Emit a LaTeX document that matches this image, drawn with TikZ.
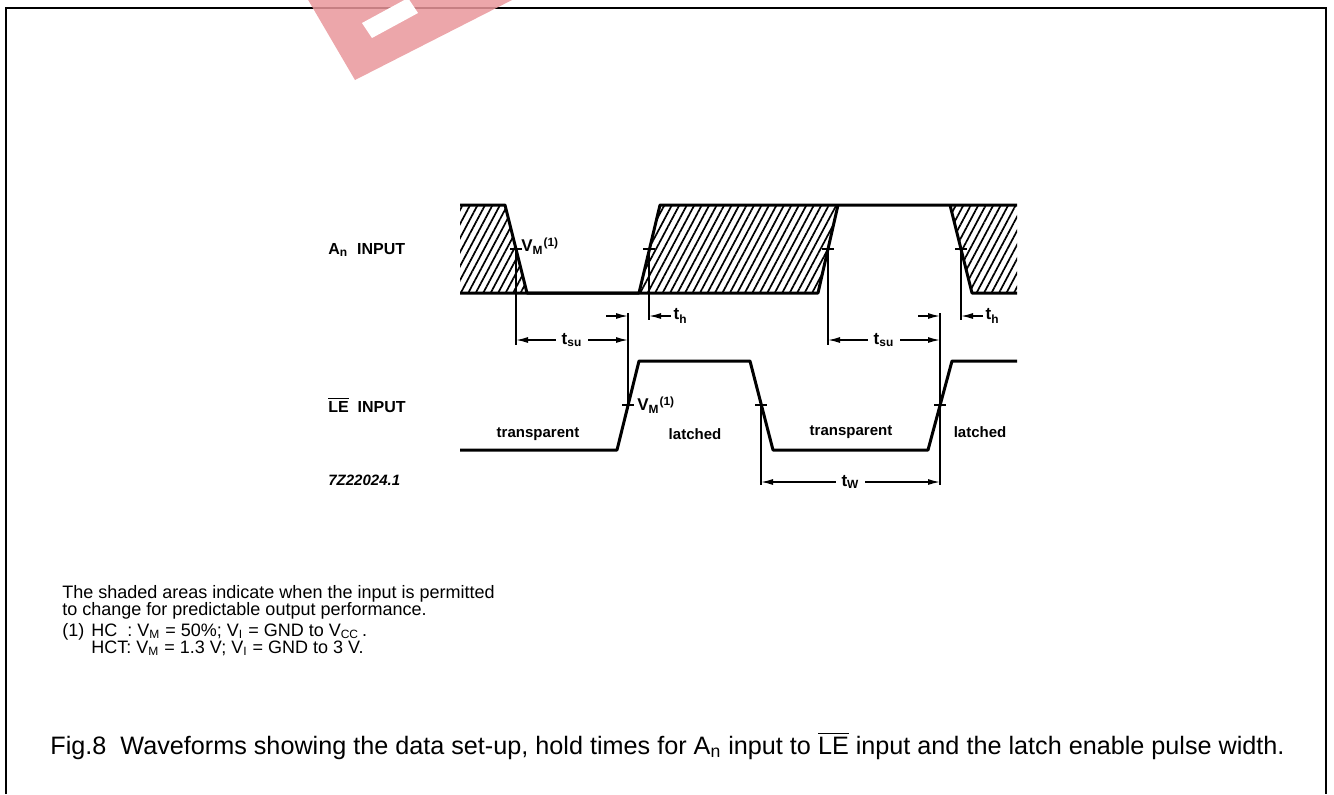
\documentclass[tikz,border=0pt]{standalone}
\usepackage{amsmath}
\usepackage{fontspec}
\setmainfont{Liberation Sans}
\usetikzlibrary{arrows.meta,patterns.meta,calc}

\definecolor{markred}{RGB}{233,150,155}

\tikzset{
  wave/.style={line width=1.5pt, line join=round},
  hatch/.style={pattern={Lines[angle=62,distance=3.3pt,line width=0.85pt]}, pattern color=black},
  dimline/.style={line width=0.7pt},
  dimboth/.style={line width=0.7pt, {Latex[length=6pt,width=3pt]}-{Latex[length=6pt,width=3pt]}},
  dimto/.style={line width=0.7pt, -{Latex[length=6pt,width=3pt]}},
  vmtick/.style={line width=0.8pt},
  lbl/.style={font=\fontsize{7.5}{9}\selectfont\bfseries, inner sep=1pt},
  vmlbl/.style={font=\fontsize{8.5}{10}\selectfont\bfseries, inner sep=1pt, anchor=west},
  dimlbl/.style={font=\fontsize{8.5}{10}\selectfont\bfseries, fill=white, inner sep=3pt},
  note/.style={font=\fontsize{9}{10}\selectfont, anchor=base west, inner sep=0pt},
}

\begin{document}
\begin{tikzpicture}[x=0.5pt, y=-0.5pt]
  \useasboundingbox (0,0) rectangle (1334,794);
  % frame, open at the bottom
  \draw[line width=1pt] (6,794) -- (6,8) -- (1326,8) -- (1326,794);
  % stamp at the top
  \fill[markred, opacity=0.85] (307,-2) -- (355,80) -- (516,-2) -- cycle;
  \fill[white] (362,23) -- (372,38) -- (418,13) -- (408,-2) -- cycle;

  % A_n input: shaded areas
  \fill[hatch] (460,205) -- (505,205) -- (527,293) -- (460,293) -- cycle;
  \fill[hatch] (639,293) -- (660,205) -- (838,205) -- (818,293) -- cycle;
  \fill[hatch] (950,205) -- (1017,205) -- (1017,293) -- (972,293) -- cycle;
  \draw[wave] (460,205) -- (505,205) -- (527,293) -- (639,293) -- (660,205) -- (1017,205);
  \draw[wave] (460,293) -- (818,293) -- (838,205);
  \draw[wave] (950,205) -- (972,293) -- (1017,293);

  % LE input
  \draw[wave] (460,450) -- (617,450) -- (639,361) -- (750,361) -- (773,450)
    -- (928,450) -- (952,361) -- (1017,361);

  % V_M crossings
  \coordinate (af1) at (516,249);
  \coordinate (ar1) at (649,249);
  \coordinate (ar2) at (828,249);
  \coordinate (af2) at (961,249);
  \coordinate (lr1) at (628,405);
  \coordinate (lf1) at (761,405);
  \coordinate (lr2) at (940,405);
  \foreach \c in {af1,ar1,ar2,af2,lr1,lf1,lr2}{%
    \draw[vmtick] ([xshift=-3pt]\c) -- ([xshift=3pt]\c);
  }

  % heights of the time marks
  \coordinate (th) at (0,316);
  \coordinate (tsu) at (0,340);
  \coordinate (tw) at (0,482);

  % reference lines
  \draw[dimline] (af1) -- ($(af1 |- tsu)+(0,5)$);
  \draw[dimline] (ar1) -- ($(ar1 |- th)+(0,4)$);
  \draw[dimline] ($(lr1 |- th)+(0,-3)$) -- (lr1);
  \draw[dimline] (ar2) -- ($(ar2 |- tsu)+(0,5)$);
  \draw[dimline] (af2) -- ($(af2 |- th)+(0,4)$);
  \draw[dimline] ($(lr2 |- th)+(0,-3)$) -- ($(lr2 |- tw)+(0,3)$);
  \draw[dimline] (lf1) -- ($(lf1 |- tw)+(0,3)$);

  % set-up and hold times
  \draw[dimboth] (af1 |- tsu) -- node[dimlbl] (tsua) {t$_\text{su}$} (lr1 |- tsu);
  \draw[dimto] ($(lr1 |- th)+(-22,0)$) -- (lr1 |- th);
  \draw[dimto] ($(ar1 |- th)+(22,0)$) node[dimlbl, anchor=west, fill=none, inner sep=1pt] (tha) {t$_\text{h}$} -- (ar1 |- th);
  \draw[dimboth] (ar2 |- tsu) -- node[dimlbl] (tsub) {t$_\text{su}$} (lr2 |- tsu);
  \draw[dimto] ($(lr2 |- th)+(-22,0)$) -- (lr2 |- th);
  \draw[dimto] ($(af2 |- th)+(22,0)$) node[dimlbl, anchor=west, fill=none, inner sep=1pt] (thb) {t$_\text{h}$} -- (af2 |- th);
  % pulse width
  \draw[dimboth] (lf1 |- tw) -- node[dimlbl] (twl) {t$_\text{W}$} (lr2 |- tw);

  % labels
  \node[lbl, anchor=west, font=\fontsize{8}{9}\selectfont\bfseries] (ain) at (326,250) {A$_\text{n}$\ \ INPUT};
  \node[lbl, anchor=west, font=\fontsize{8}{9}\selectfont\bfseries] (lein) at (326,405) {$\overline{\text{LE}}$\ \ INPUT};
  \node[lbl, anchor=west, font=\fontsize{7.5}{9}\selectfont\bfseries\itshape] (figno) at (326,480) {7Z22024.1};
  \node[vmlbl] (vma) at (519,246) {V$_\text{M}$$^\text{(1)}$};
  \node[vmlbl] (vmle) at (635,405) {V$_\text{M}$$^\text{(1)}$};
  \node[lbl] (tra) at (538,434) {transparent};
  \node[lbl] (lta) at (695,434) {latched};
  \node[lbl] (trb) at (851,432) {transparent};
  \node[lbl] (ltb) at (980,432) {latched};

  % notes
  \node[note] (shade1) at (62,598) {The shaded areas indicate when the input is permitted};
  \node[note] (shade2) at (62,615) {to change for predictable output performance.};
  \node[note] (fnum) at (62,636) {(1)};
  \node[note] (fnhc) at (91,636) {HC\ \ : V$_\text{M}$ = 50\%; V$_\text{I}$ = GND to V$_\text{CC}$\,.};
  \node[note] (fnhct) at (91,653) {HCT: V$_\text{M}$ = 1.3 V; V$_\text{I}$ = GND to 3 V.};

  % caption
  \node[note, font=\fontsize{12.6}{14}\selectfont] (caption) at (50,754)
    {Fig.8\ \ Waveforms showing the data set-up, hold times for A$_\text{n}$ input to $\overline{\text{LE}}$ input and the latch enable pulse width.};
\end{tikzpicture}
\end{document}
